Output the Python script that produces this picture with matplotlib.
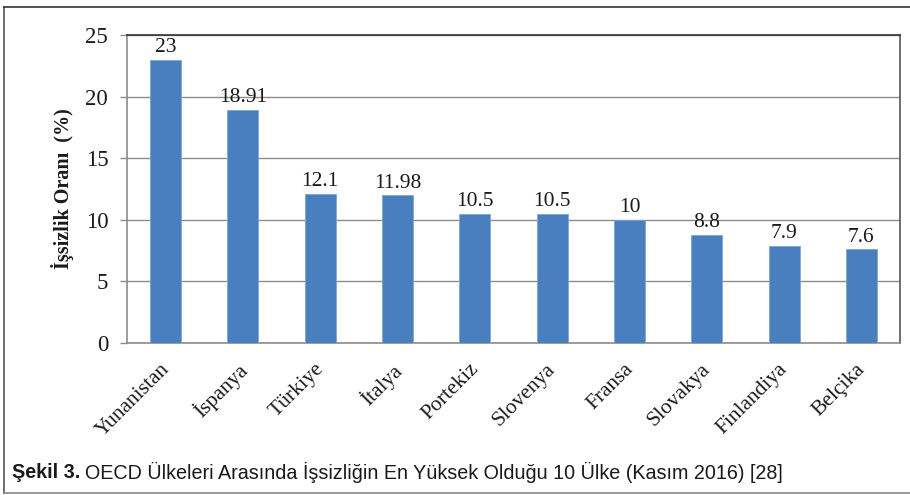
import matplotlib.pyplot as plt
from matplotlib.lines import Line2D
from matplotlib.transforms import ScaledTranslation

countries = ['Yunanistan', 'İspanya', 'Türkiye', 'İtalya', 'Portekiz',
             'Slovenya', 'Fransa', 'Slovakya', 'Finlandiya', 'Belçika']
rates = [23, 18.91, 12.1, 11.98, 10.5, 10.5, 10, 8.8, 7.9, 7.6]
rate_labels = ['23', '18.91', '12.1', '11.98', '10.5', '10.5', '10', '8.8', '7.9', '7.6']
yticks = [0, 5, 10, 15, 20, 25]

W, H = 910, 495
fig = plt.figure(figsize=(W / 100, H / 100), dpi=100)
ax = fig.add_axes([127 / W, 1 - 343 / H, (900 - 127) / W, (343 - 35) / H])

x = range(len(countries))
bars = ax.bar(x, rates, width=0.4, color='#4a7fbf', edgecolor='#7fa6d6', linewidth=0.6, zorder=3)
ax.bar_label(bars, labels=rate_labels, padding=2, fontsize=15.5, family='Liberation Serif', color='#1a1a1a')

ax.set_xlim(-0.5, len(countries) - 0.5)
ax.set_ylim(0, 25)
ax.set_yticks(yticks)
ax.set_yticklabels([str(t) for t in yticks], family='Liberation Serif', fontsize=16.5, color='#1a1a1a')
ax.set_xticks(list(x))
ax.set_xticklabels(countries, rotation=45, ha='right', rotation_mode='anchor',
                   family='Liberation Serif', fontsize=15.5, color='#1a1a1a')
ax.tick_params(axis='x', length=0, pad=12)
ax.tick_params(axis='y', length=5, width=1, color='#8c8c8c', pad=8.5)
# nudge the rotated country names a little to the left
shift = ScaledTranslation(-6 / 100, 0, fig.dpi_scale_trans)
for lbl in ax.get_xticklabels():
    lbl.set_transform(lbl.get_transform() + shift)
ax.yaxis.grid(True, color='#8c8c8c', linewidth=1, zorder=0)
ax.set_axisbelow(True)

ax.spines['left'].set_color('#8c8c8c')
ax.spines['bottom'].set_color('#8c8c8c')
ax.spines['top'].set_color('#333333')
ax.spines['right'].set_color('#555555')
for s in ax.spines.values():
    s.set_linewidth(1.2)

ax.set_ylabel('İşsizlik Oranı  (%)', family='Liberation Serif', fontweight='bold',
              fontsize=14.5, color='#1a1a1a')
ax.yaxis.set_label_coords(-53 / 773, 0.5)

# outer frame of the figure
fig.add_artist(Line2D([3.5 / W, 3.5 / W], [1 - 7 / H, 1 - 493 / H], color='#555555', lw=1.2, transform=fig.transFigure))
fig.add_artist(Line2D([3.5 / W, 1], [1 - 7 / H, 1 - 7 / H], color='#333333', lw=1.2, transform=fig.transFigure))
fig.add_artist(Line2D([3.5 / W, 1], [1 - 493 / H, 1 - 493 / H], color='#888888', lw=1.2, transform=fig.transFigure))

cap_font = ['Liberation Sans Narrow', 'Liberation Sans', 'DejaVu Sans']
t1 = fig.text(12 / W, 1 - 472 / H, 'Şekil 3.', family=cap_font, fontweight='bold',
              fontsize=14.2, va='center', color='#1a1a1a')
fig.canvas.draw()
bb = t1.get_window_extent()
fig.text((bb.x1 + 5) / W, 1 - 472 / H,
         'OECD Ülkeleri Arasında İşsizliğin En Yüksek Olduğu 10 Ülke (Kasım 2016) [28]',
         family=cap_font, fontsize=14.2, va='center', color='#1a1a1a')

fig.savefig('out.png', dpi=100)
